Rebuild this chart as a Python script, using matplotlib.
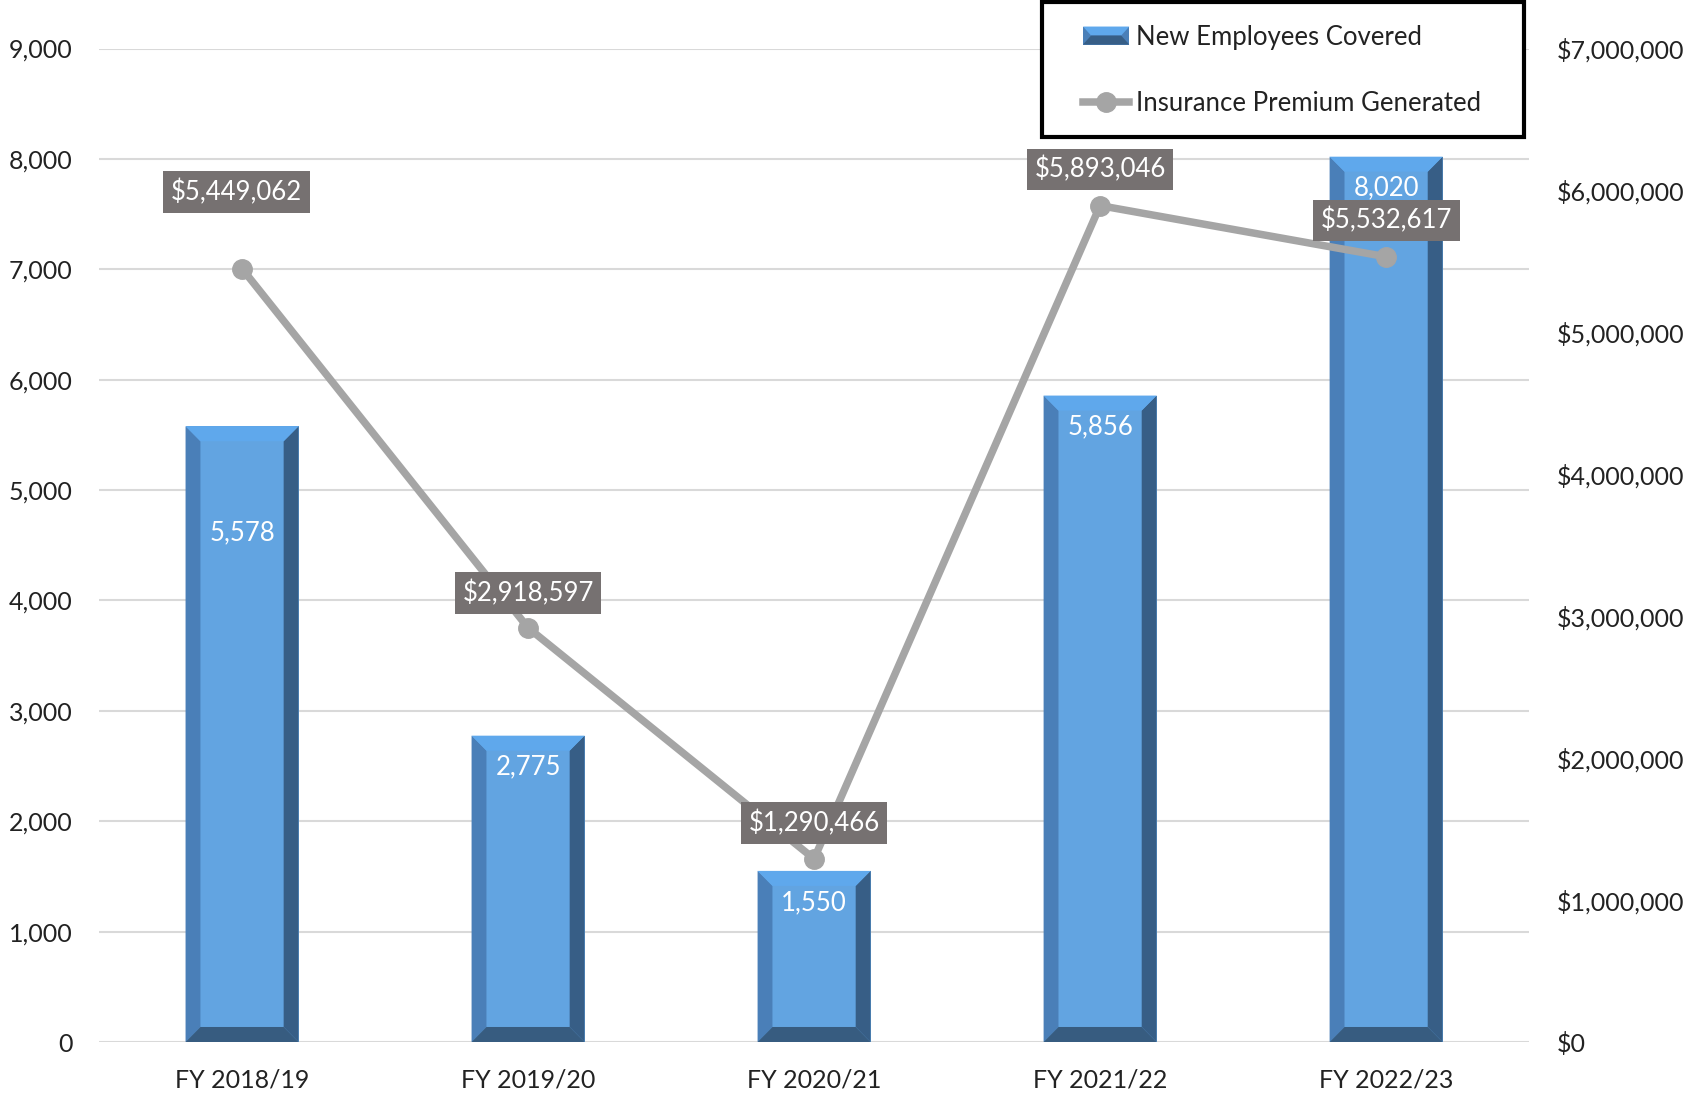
import numpy as np
import matplotlib.pyplot as plt
from matplotlib.patches import Polygon, Rectangle
from matplotlib.lines import Line2D
from matplotlib.legend_handler import HandlerBase
from matplotlib.ticker import FuncFormatter

years = ["FY 2018/19", "FY 2019/20", "FY 2020/21", "FY 2021/22", "FY 2022/23"]
employees = [5578, 2775, 1550, 5856, 8020]
premium = [5449062, 2918597, 1290466, 5893046, 5532617]

plt.rcParams['font.family'] = ['Lato', 'DejaVu Sans']

face = '#62A4E1'
c_left = '#4A7FB8'
c_right = '#375E86'
c_top = '#5FA8EC'
c_bot = '#375C80'
gray = '#A5A5A5'
txt = '#222222'


class HandlerBevel(HandlerBase):
    def create_artists(self, legend, orig, xd, yd, width, height, fontsize, trans):
        b = height * 0.45
        x0, x1, y0, y1 = -xd, -xd + width, -yd, -yd + height
        top = Polygon([(x0, y1), (x1, y1), (x1 - b, y0 + height / 2), (x0 + b, y0 + height / 2)],
                      closed=True, fc=c_top, ec='none', transform=trans)
        bot = Polygon([(x0, y0), (x1, y0), (x1 - b, y0 + height / 2), (x0 + b, y0 + height / 2)],
                      closed=True, fc=c_right, ec='none', transform=trans)
        mid = Rectangle((x0, y0), width, height, fc=c_left, ec='none', transform=trans)
        return [mid, top, bot]


fig = plt.figure(figsize=(16.9, 10.95), dpi=100)
ax = fig.add_axes([0.0586, 0.0484, 0.8462, 0.9073])
ax2 = ax.twinx()

x = np.arange(len(years))
w = 0.395
bw = 0.052
bh = 136
bars = ax.bar(x, employees, w, color=face, zorder=2)
for b in bars:
    x0 = b.get_x()
    x1 = x0 + b.get_width()
    h = b.get_height()
    polys = [
        ([(x0, 0), (x0 + bw, bh), (x0 + bw, h - bh), (x0, h)], c_left),
        ([(x1, 0), (x1 - bw, bh), (x1 - bw, h - bh), (x1, h)], c_right),
        ([(x0, h), (x0 + bw, h - bh), (x1 - bw, h - bh), (x1, h)], c_top),
        ([(x0, 0), (x0 + bw, bh), (x1 - bw, bh), (x1, 0)], c_bot),
    ]
    for pts, c in polys:
        ax.add_patch(Polygon(pts, closed=True, fc=c, ec='none', zorder=3))

# bar value labels (first one was moved down by hand in the original)
bar_lab_y = [4610, None, None, None, None]
for i, v in enumerate(employees):
    y = bar_lab_y[i] if bar_lab_y[i] is not None else v - 285
    ax.text(x[i], y, f"{v:,}", ha='center', va='center', color='white', fontsize=18.5, zorder=4)

ax.set_xlim(-0.5, len(years) - 0.5)
ax.set_ylim(0, 9000)
ax.set_yticks(np.arange(0, 9001, 1000))
ax.yaxis.set_major_formatter(FuncFormatter(lambda v, p: f"{v:,.0f}"))
ax.set_xticks(x)
ax.set_xticklabels(years)
ax.yaxis.grid(True, color='#D9D9D9', lw=1.5)
ax.set_axisbelow(True)
ax.tick_params(axis='y', length=0, labelsize=18, pad=19, colors=txt)
ax.tick_params(axis='x', length=0, labelsize=18, pad=19, colors=txt)

ax2.plot(x, premium, color=gray, lw=5.4, marker='o', ms=14, zorder=5)
ax2.set_ylim(0, 7000000)
ax2.set_yticks(np.arange(0, 7000001, 1000000))
ax2.yaxis.set_major_formatter(FuncFormatter(lambda v, p: f"${v:,.0f}"))
ax2.tick_params(axis='y', length=0, labelsize=18, pad=20, colors=txt)

lab_off = [(-4, 55), (0, 25), (0, 26), (0, 26), (0, 26)]
for i, v in enumerate(premium):
    ax2.annotate(f"${v:,}", (x[i], v), xytext=lab_off[i], textcoords='offset points',
                 ha='center', va='center', color='white', fontsize=18.5,
                 bbox=dict(boxstyle='square,pad=0.3', fc='#767171', ec='none'), zorder=6)

for a in (ax, ax2):
    for s in a.spines.values():
        s.set_visible(False)

# legend box drawn separately so its padding can match the original
fig.patches.append(Rectangle((0.6166, 0.8749), 0.2852, 0.1233, transform=fig.transFigure,
                             fc='white', ec='black', lw=3, zorder=10))
handles = [Rectangle((0, 0), 1, 1),
           Line2D([], [], color=gray, lw=5.4, marker='o', ms=14)]
leg = fig.legend(handles, ["New Employees Covered", "Insurance Premium Generated"],
                 loc='upper left', bbox_to_anchor=(1083 / 1690, 0.9776), frameon=False,
                 fontsize=18.5, handlelength=1.8, handletextpad=0.25, labelspacing=1.62,
                 borderpad=0, borderaxespad=0, handler_map={Rectangle: HandlerBevel()})
leg.set_zorder(11)
for t in leg.get_texts():
    t.set_color(txt)

fig.savefig("out.png", dpi=100)
